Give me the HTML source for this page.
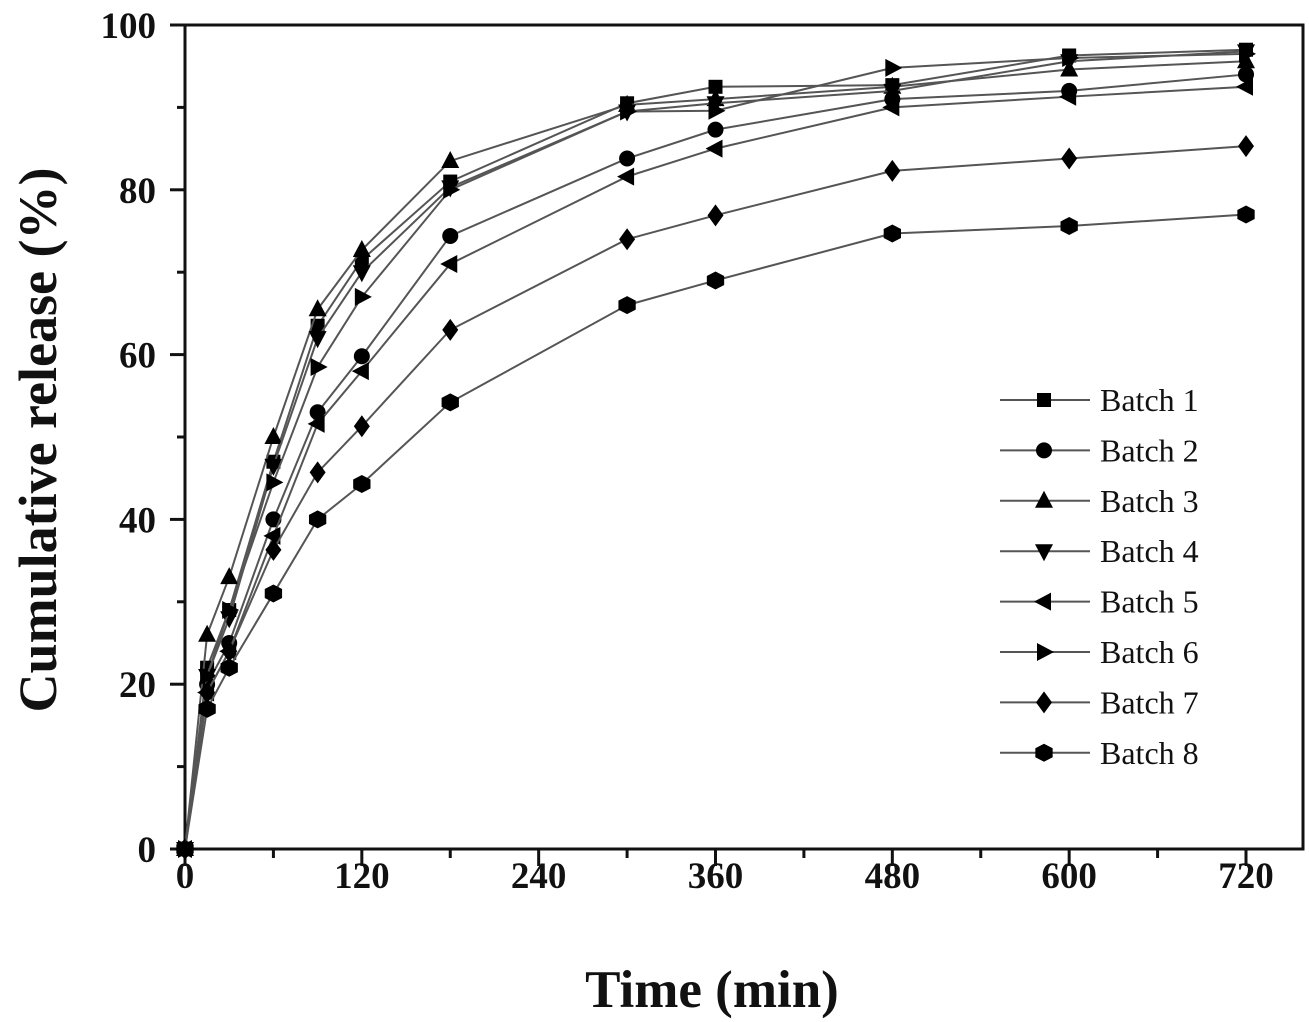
<!DOCTYPE html>
<html><head><meta charset="utf-8"><style>
body{margin:0;background:#fff}
svg{display:block}
text{font-family:"Liberation Serif",serif;fill:#111}
</style></head><body>
<svg id="chart" width="1309" height="1022">
<g id="frame"></g><g id="series"></g><g id="legend"></g>
<text x="712" y="1007" text-anchor="middle" font-size="53" font-weight="bold">Time (min)</text>
<text transform="translate(56,440) rotate(-90)" text-anchor="middle" font-size="54" font-weight="bold">Cumulative release (%)</text>
</svg>
<script>
const times=[0,15,30,60,90,120,180,300,360,480,600,720];
const seriesNames=["Batch 1","Batch 2","Batch 3","Batch 4","Batch 5","Batch 6","Batch 7","Batch 8"];
const batch1=[0,22,29,47,63.5,71.5,81,90.5,92.5,92.7,96.3,97];
const batch2=[0,20,25,40,53,59.8,74.4,83.8,87.3,91,92,94];
const batch3=[0,26,33,50,65.5,72.7,83.5,90.3,91,92.5,94.6,95.6];
const batch4=[0,21,28,46.5,62,70,80.3,89.5,90.5,92,95.6,96.8];
const batch5=[0,19,24,38,51.6,58,71,81.6,85,90,91.3,92.5];
const batch6=[0,21,29,44.5,58.5,67,80,89.5,89.6,94.8,96,96.5];
const batch7=[0,19,24,36.3,45.7,51.3,63,74,76.9,82.3,83.8,85.3];
const batch8=[0,17,22,31,40,44.3,54.2,66,69,74.7,75.6,77];
const xTicks=[0,120,240,360,480,600,720];
const yTicks=[0,20,40,60,80,100];
const allSeries=[batch1,batch2,batch3,batch4,batch5,batch6,batch7,batch8];
const markers=["square","circle","up","down","left","right","diamond","hex"];
const X0=185,X1=1303,Y0=849,Y1=25;
const xs=t=>X0+(t/720)*(1246-X0);
const ys=v=>Y0-(v/100)*(Y0-Y1);
const NS="http://www.w3.org/2000/svg";
function mk(tag,at,parent){const e=document.createElementNS(NS,tag);for(const k in at)e.setAttribute(k,at[k]);parent.appendChild(e);return e;}
const frame=document.getElementById('frame');
const fr=mk('rect',{x:X0,y:Y1,width:X1-X0,height:Y0-Y1,fill:'none',stroke:'#111','stroke-width':3},frame);


for(let t=0;t<=780;t+=60){const x=xs(t);if(x>X1)break;const major=t%120===0;
 mk('line',{x1:x,x2:x,y1:Y0,y2:Y0+(major?17:9),stroke:'#111','stroke-width':3},frame);}
xTicks.forEach(t=>{const e=mk('text',{x:xs(t),y:Y0+39,'text-anchor':'middle','font-size':37,'font-weight':'bold'},frame);e.textContent=t;
 
 });
for(let v=0;v<=100;v+=10){const y=ys(v);const major=v%20===0;
 mk('line',{x1:X0,x2:X0-(major?15:8),y1:y,y2:y,stroke:'#111','stroke-width':3},frame);}
yTicks.forEach(v=>{const e=mk('text',{x:X0-29,y:ys(v)+13,'text-anchor':'end','font-size':37,'font-weight':'bold'},frame);e.textContent=v;
 
 });
function marker(type,x,y,g){const s=9;let e;
 if(type==="square")e=mk('rect',{x:x-7,y:y-7,width:14,height:14},g);
 else if(type==="circle")e=mk('circle',{cx:x,cy:y,r:8},g);
 else if(type==="up")e=mk('polygon',{points:`${x},${y-s-1} ${x-s},${y+s-2} ${x+s},${y+s-2}`},g);
 else if(type==="down")e=mk('polygon',{points:`${x},${y+s+1} ${x-s},${y-s+2} ${x+s},${y-s+2}`},g);
 else if(type==="left")e=mk('polygon',{points:`${x-s-1},${y} ${x+s-2},${y-s} ${x+s-2},${y+s}`},g);
 else if(type==="right")e=mk('polygon',{points:`${x+s+1},${y} ${x-s+2},${y-s} ${x-s+2},${y+s}`},g);
 else if(type==="diamond")e=mk('polygon',{points:`${x},${y-11} ${x+8},${y} ${x},${y+11} ${x-8},${y}`},g);
 else {let p=[];for(let i=0;i<6;i++){const a=Math.PI/3*i+Math.PI/6;p.push((x+10*Math.cos(a))+','+(y+9*Math.sin(a)));}e=mk('polygon',{points:p.join(' ')},g);}
 e.setAttribute('fill','#000');return e;}
const sg=document.getElementById('series');
allSeries.forEach((vals,i)=>{const g=mk('g',{},sg);
 
 
 const pl=mk('polyline',{points:vals.map((v,j)=>xs(times[j])+','+ys(v)).join(' '),fill:'none',stroke:'#555','stroke-width':2},g);
 
 
 vals.forEach((v,j)=>{const m=marker(markers[i],xs(times[j]),ys(v),g);
  
  });});
const lg=document.getElementById('legend');
seriesNames.forEach((n,i)=>{const y=400+i*50.4;const g=mk('g',{},lg);
 
 
 mk('line',{x1:1000,x2:1090,y1:y,y2:y,stroke:'#555','stroke-width':2},g);
 marker(markers[i],1044,y,g);
 const t=mk('text',{x:1100,y:y+11,'font-size':32},g);t.textContent=n;});
</script>
</body></html>
